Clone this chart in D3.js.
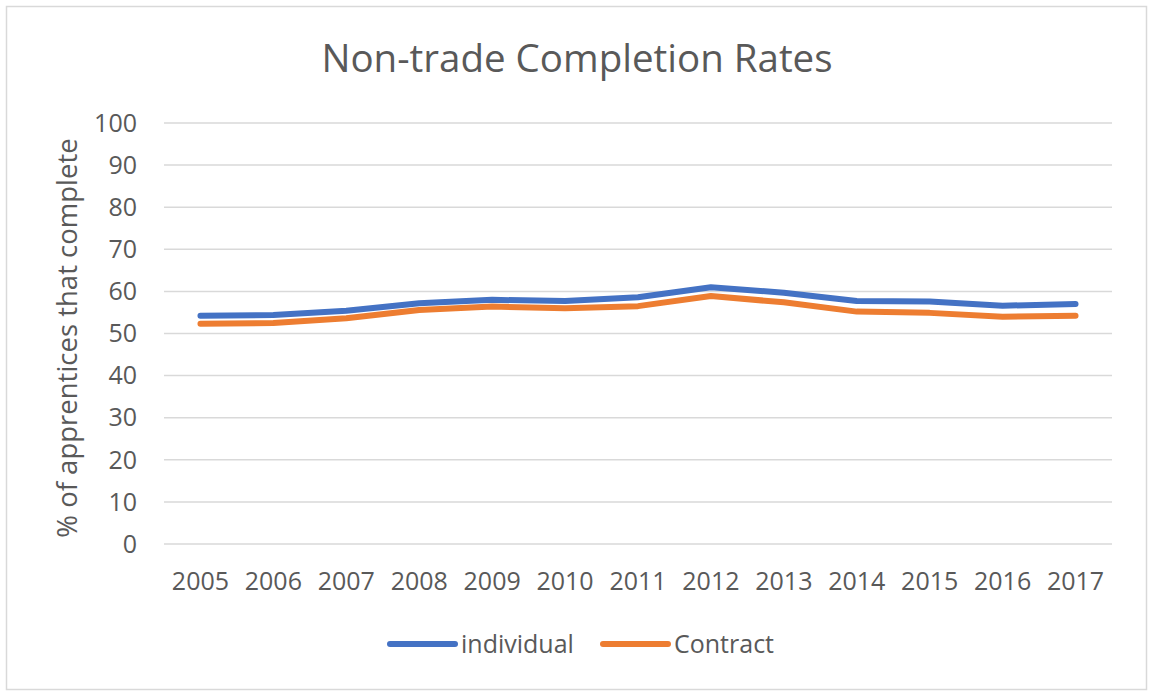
<!DOCTYPE html>
<html>
<head>
<meta charset="utf-8">
<script src="https://cdn.jsdelivr.net/npm/d3@7"></script>
<style>
  body { margin: 0; background: #fff; }
  text { font-family: "Open Sans", sans-serif; fill: #595959; }
</style>
</head>
<body>
<div id="chart"></div>
<script>
const years = ['2005', '2006', '2007', '2008', '2009', '2010', '2011', '2012', '2013', '2014', '2015', '2016', '2017']
const individual = [54.2, 54.4, 55.4, 57.2, 58.0, 57.7, 58.6, 61.0, 59.7, 57.7, 57.6, 56.6, 57.0]
const contract = [52.3, 52.5, 53.6, 55.6, 56.4, 56.0, 56.5, 58.9, 57.4, 55.2, 54.9, 54.0, 54.2]
const yTicks = [0, 10, 20, 30, 40, 50, 60, 70, 80, 90, 100]

const width = 1155
const height = 698
const plotLeft = 164
const plotRight = 1112
const plotTop = 123
const plotBottom = 544

const svg = d3.select('#chart')
  .append('svg')
  .attr('width', width)
  .attr('height', height)

// chart frame
svg.append('rect')
  .attr('x', 6.5)
  .attr('y', 6.5)
  .attr('width', 1140)
  .attr('height', 683)
  .attr('fill', '#fff')
  .attr('stroke', '#d9d9d9')
  .attr('stroke-width', 1.5)

const x = d3.scalePoint()
  .domain(years)
  .range([plotLeft, plotRight])
  .padding(0.5)

const y = d3.scaleLinear()
  .domain([0, 100])
  .range([plotBottom, plotTop])

// gridlines
svg.append('g')
  .selectAll('line')
  .data(yTicks)
  .enter()
  .append('line')
  .attr('x1', plotLeft)
  .attr('x2', plotRight)
  .attr('y1', d => y(d))
  .attr('y2', d => y(d))
  .attr('stroke', '#d9d9d9')
  .attr('stroke-width', 1.5)

// y tick labels
svg.append('g')
  .selectAll('text')
  .data(yTicks)
  .enter()
  .append('text')
  .attr('x', 137)
  .attr('y', d => y(d))
  .attr('dy', '0.35em')
  .attr('text-anchor', 'end')
  .style('font-size', '25px')
  .text(d => d)

// x tick labels
svg.append('g')
  .selectAll('text')
  .data(years)
  .enter()
  .append('text')
  .attr('x', d => x(d))
  .attr('y', 590)
  .attr('text-anchor', 'middle')
  .style('font-size', '25px')
  .text(d => d)

// title
svg.append('text')
  .attr('x', 577)
  .attr('y', 72)
  .attr('text-anchor', 'middle')
  .style('font-size', '38.5px')
  .text('Non-trade Completion Rates')

// y axis title
svg.append('text')
  .attr('transform', 'translate(77,338) rotate(-90)')
  .attr('text-anchor', 'middle')
  .style('font-size', '27.5px')
  .text('% of apprentices that complete')

const line = d3.line()
  .x((d, i) => x(years[i]))
  .y(d => y(d))

const series = [
  { name: 'individual', values: individual, color: '#4472c4' },
  { name: 'Contract', values: contract, color: '#ed7d31' }
]

svg.append('g')
  .selectAll('path')
  .data(series)
  .enter()
  .append('path')
  .attr('d', d => line(d.values))
  .attr('fill', 'none')
  .attr('stroke', d => d.color)
  .attr('stroke-width', 6)
  .attr('stroke-linecap', 'round')
  .attr('stroke-linejoin', 'round')

// legend
const legendX = [390, 603]
const legend = svg.append('g')
  .selectAll('g')
  .data(series)
  .enter()
  .append('g')
  .attr('transform', (d, i) => 'translate(' + legendX[i] + ',644)')
legend.append('line')
  .attr('x1', 0)
  .attr('x2', 65)
  .attr('stroke', d => d.color)
  .attr('stroke-width', 6)
  .attr('stroke-linecap', 'round')
legend.append('text')
  .attr('x', 71)
  .attr('dy', '0.35em')
  .style('font-size', '25px')
  .text(d => d.name)
</script>
</body>
</html>
